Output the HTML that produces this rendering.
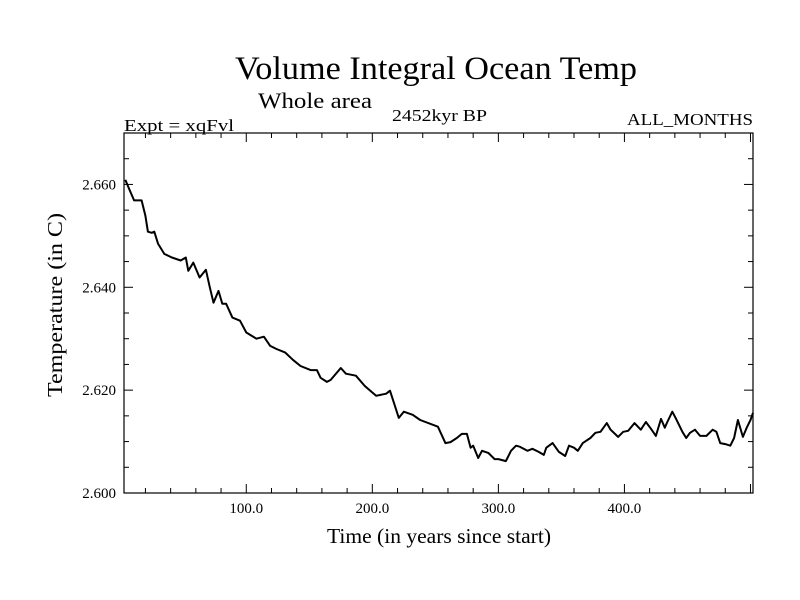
<!DOCTYPE html>
<html><head><meta charset="utf-8"><style>
html,body{margin:0;padding:0;background:#fff;}
svg{display:block;font-family:"Liberation Serif",serif;}
</style></head><body>
<svg id="chart" width="800" height="600">
<text x="235" y="79" font-size="33" textLength="402" lengthAdjust="spacingAndGlyphs">Volume Integral Ocean Temp</text>
<text x="258" y="108" font-size="22" textLength="114" lengthAdjust="spacingAndGlyphs">Whole area</text>
<text x="124" y="131" font-size="17" textLength="110" lengthAdjust="spacingAndGlyphs">Expt = xqFvl</text>
<text x="392" y="121" font-size="17" textLength="95" lengthAdjust="spacingAndGlyphs">2452kyr BP</text>
<text x="627" y="125" font-size="17" textLength="126" lengthAdjust="spacingAndGlyphs">ALL_MONTHS</text>
<text x="327" y="543" font-size="21" textLength="224" lengthAdjust="spacingAndGlyphs">Time (in years since start)</text>
<text x="0" y="0" font-size="21" text-anchor="middle" textLength="184" lengthAdjust="spacingAndGlyphs" transform="translate(62,305) rotate(-90)">Temperature (in C)</text>
<g id="axes"></g>
<path id="series" fill="none" stroke="#000" stroke-width="2" stroke-linejoin="round"></path>
<rect x="124" y="133" width="629" height="360" fill="none" stroke="#000" stroke-width="1.2"></rect>
</svg>
<script>
const years = [4,8,11,17,20,22,25,27,30,35,41,48,52,54,58,63,68,71,74,78,81,84,89,95,100,108,114,119,124,131,137,143,151,156,159,164,167,175,179,187,194,203,211,214,221,225,232,238,252,258,262,267,271,275,278,280,284,287,292,297,300,306,310,314,317,323,327,332,336,338,343,348,353,356,360,363,367,373,377,381,386,389,395,399,403,408,413,417,421,425,429,432,434,438,441,446,449,452,456,460,465,470,473,476,480,484,487,490,494,497,500,502];
const temps = [2.6609,2.6586,2.6569,2.6569,2.6539,2.6508,2.6506,2.6508,2.6485,2.6465,2.6458,2.6452,2.6458,2.6432,2.6448,2.6419,2.6434,2.6401,2.6370,2.6393,2.6368,2.6368,2.6341,2.6335,2.6312,2.6300,2.6304,2.6286,2.6280,2.6273,2.6259,2.6247,2.6239,2.6239,2.6224,2.6216,2.6220,2.6243,2.6232,2.6228,2.6208,2.6189,2.6193,2.6199,2.6146,2.6158,2.6152,2.6142,2.6129,2.6097,2.6099,2.6107,2.6115,2.6115,2.6088,2.6092,2.6068,2.6082,2.6078,2.6066,2.6066,2.6062,2.6082,2.6092,2.6090,2.6082,2.6086,2.6080,2.6074,2.6088,2.6097,2.6080,2.6072,2.6092,2.6088,2.6082,2.6097,2.6107,2.6117,2.6119,2.6136,2.6123,2.6109,2.6119,2.6121,2.6136,2.6123,2.6138,2.6125,2.6111,2.6144,2.6127,2.6138,2.6158,2.6144,2.6119,2.6107,2.6117,2.6123,2.6111,2.6111,2.6123,2.6119,2.6097,2.6095,2.6092,2.6107,2.6142,2.6109,2.6127,2.6142,2.6156];
const xTickValues = [100,200,300,400];
const xTickLabels = ["100.0","200.0","300.0","400.0"];
const yTickValues = [2.60,2.62,2.64,2.66];
const yTickLabels = ["2.600","2.620","2.640","2.660"];

const X0=124,X1=753,Y0=493,Y1=133,XMIN=3,XMAX=502,YMIN=2.6,YMAX=2.67;
function sx(v){return X0+(v-XMIN)/(XMAX-XMIN)*(X1-X0);}
function sy(v){return Y0-(v-YMIN)/(YMAX-YMIN)*(Y0-Y1);}
const NS="http://www.w3.org/2000/svg";
const g=document.getElementById('axes');
function line(x1,y1,x2,y2,name){const l=document.createElementNS(NS,'line');
l.setAttribute('x1',x1);l.setAttribute('y1',y1);l.setAttribute('x2',x2);l.setAttribute('y2',y2);
l.setAttribute('stroke','#000');l.setAttribute('stroke-width','1');


g.appendChild(l);}
function text(x,y,s,anchor,name){const t=document.createElementNS(NS,'text');
t.setAttribute('x',x);t.setAttribute('y',y);t.setAttribute('font-size','15');t.setAttribute('text-anchor',anchor);t.textContent=s;


g.appendChild(t);}
for(let v=20;v<=500;v+=20){const x=sx(v);const major=(v%100===0);const L=major?9:5;
line(x,Y0,x,Y0-L,'x-tick');line(x,Y1,x,Y1+L,'x-tick-top');}
for(let i=0;i<=14;i++){const v=YMIN+i*0.005;const y=sy(v);const major=(i%4===0);const L=major?9:5;
line(X0,y,X0+L,y,'y-tick');line(X1,y,X1-L,y,'y-tick-right');}
xTickValues.forEach((v,i)=>text(sx(v),513,xTickLabels[i],'middle','x-tick-label'));
yTickValues.forEach((v,i)=>text(116,sy(v)+5,yTickLabels[i],'end','y-tick-label'));
let d='';years.forEach((yr,i)=>{d+=(i?'L':'M')+sx(yr).toFixed(1)+','+sy(temps[i]).toFixed(1);});
document.getElementById('series').setAttribute('d',d);
</script>
</body></html>
